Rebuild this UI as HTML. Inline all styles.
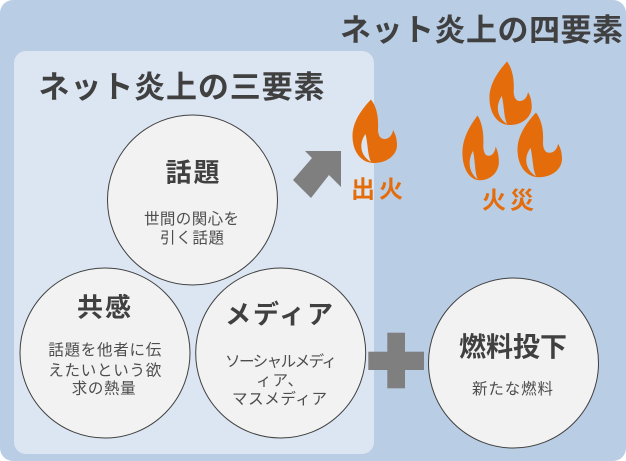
<!DOCTYPE html>
<html><head><meta charset="utf-8">
<style>
html,body{margin:0;padding:0;background:#fff;}
svg{display:block;}
text{font-family:"Liberation Sans","Noto Sans CJK JP",sans-serif;}
.t{fill:#404040;font-weight:700;}
.s{fill:#4d4d4d;font-size:15.5px;}
.o{fill:#e46c0a;font-weight:700;font-size:24px;}
</style></head>
<body>
<svg width="626" height="461" viewBox="0 0 626 461" xmlns="http://www.w3.org/2000/svg">
<defs>
<path id="fl" fill-rule="evenodd" d="M19,0.5 C10,10 0,23 0.5,38 C1,54 10,64 22,64 C35,64 45,56 45,46 C45,40 43.5,35 41,31 C40.5,36 37,40 32.5,40 C28,40 26,36 26,30 C26.5,20 25.5,9 19,0.5 Z M13.5,35 C7,44 7.5,56 19,63 C15.5,56 16,45 13.5,35 Z"/>
</defs>
<rect x="0" y="0" width="626" height="461" rx="13" fill="#b9cde5"/>
<rect x="14" y="51" width="360" height="403" rx="12" fill="#dce6f2"/>

<text class="t" x="340" y="41" font-size="31" textLength="283" lengthAdjust="spacing">ネット炎上の四要素</text>
<text class="t" x="38.5" y="98" font-size="31" textLength="286" lengthAdjust="spacing">ネット炎上の三要素</text>

<circle cx="192.5" cy="200" r="85" fill="#f2f2f2" stroke="#404040" stroke-width="1"/>
<circle cx="105" cy="353" r="85" fill="#f2f2f2" stroke="#404040" stroke-width="1"/>
<circle cx="280.7" cy="353" r="85" fill="#f2f2f2" stroke="#404040" stroke-width="1"/>
<circle cx="513.5" cy="363" r="85" fill="#f2f2f2" stroke="#404040" stroke-width="1"/>

<text class="t" x="165.5" y="181.5" font-size="26" textLength="54" lengthAdjust="spacing">話題</text>
<text class="s" x="144" y="224" textLength="95" lengthAdjust="spacing">世間の関心を</text>
<text class="s" x="160" y="243" textLength="64" lengthAdjust="spacing">引く話題</text>

<text class="t" x="77" y="316.5" font-size="26" textLength="54" lengthAdjust="spacing">共感</text>
<text class="s" x="48.3" y="355" textLength="113" lengthAdjust="spacing">話題を他者に伝</text>
<text class="s" x="48.3" y="375.5" textLength="113" lengthAdjust="spacing">えたいという欲</text>
<text class="s" x="71.7" y="393.5" textLength="64" lengthAdjust="spacing">求の熱量</text>

<text class="t" x="225" y="323.5" font-size="26" textLength="108" lengthAdjust="spacing">メディア</text>
<text class="s" x="225" y="366.5" textLength="112" lengthAdjust="spacing">ソーシャルメディ</text>
<text class="s" x="256" y="385.5" textLength="47" lengthAdjust="spacing">ィア、</text>
<text class="s" x="232" y="404" textLength="95" lengthAdjust="spacing">マスメディア</text>

<text class="t" x="459" y="356.5" font-size="27" textLength="108" lengthAdjust="spacing">燃料投下</text>
<text class="s" x="472" y="394" textLength="81" lengthAdjust="spacing">新たな燃料</text>

<rect x="387.3" y="332.7" width="17.7" height="55.6" fill="#7f7f7f"/>
<rect x="368.3" y="351.7" width="55.7" height="18.3" fill="#7f7f7f"/>

<polygon points="305,151 341,151 341,187 329,175 311,198 293,180 312,158" fill="#7f7f7f"/>

<use href="#fl" fill="#e46c0a" transform="translate(352,99)"/>
<use href="#fl" fill="#e46c0a" transform="translate(462,115) scale(0.82,1.02)"/>
<use href="#fl" fill="#e46c0a" transform="translate(517,112) scale(1,1.02)"/>
<use href="#fl" fill="#e46c0a" transform="translate(489,61) scale(0.95,1)"/>

<text class="o" x="351" y="197.5" textLength="52" lengthAdjust="spacing">出火</text>
<text class="o" x="482" y="208.5" textLength="52" lengthAdjust="spacing">火災</text>
</svg>
</body></html>
